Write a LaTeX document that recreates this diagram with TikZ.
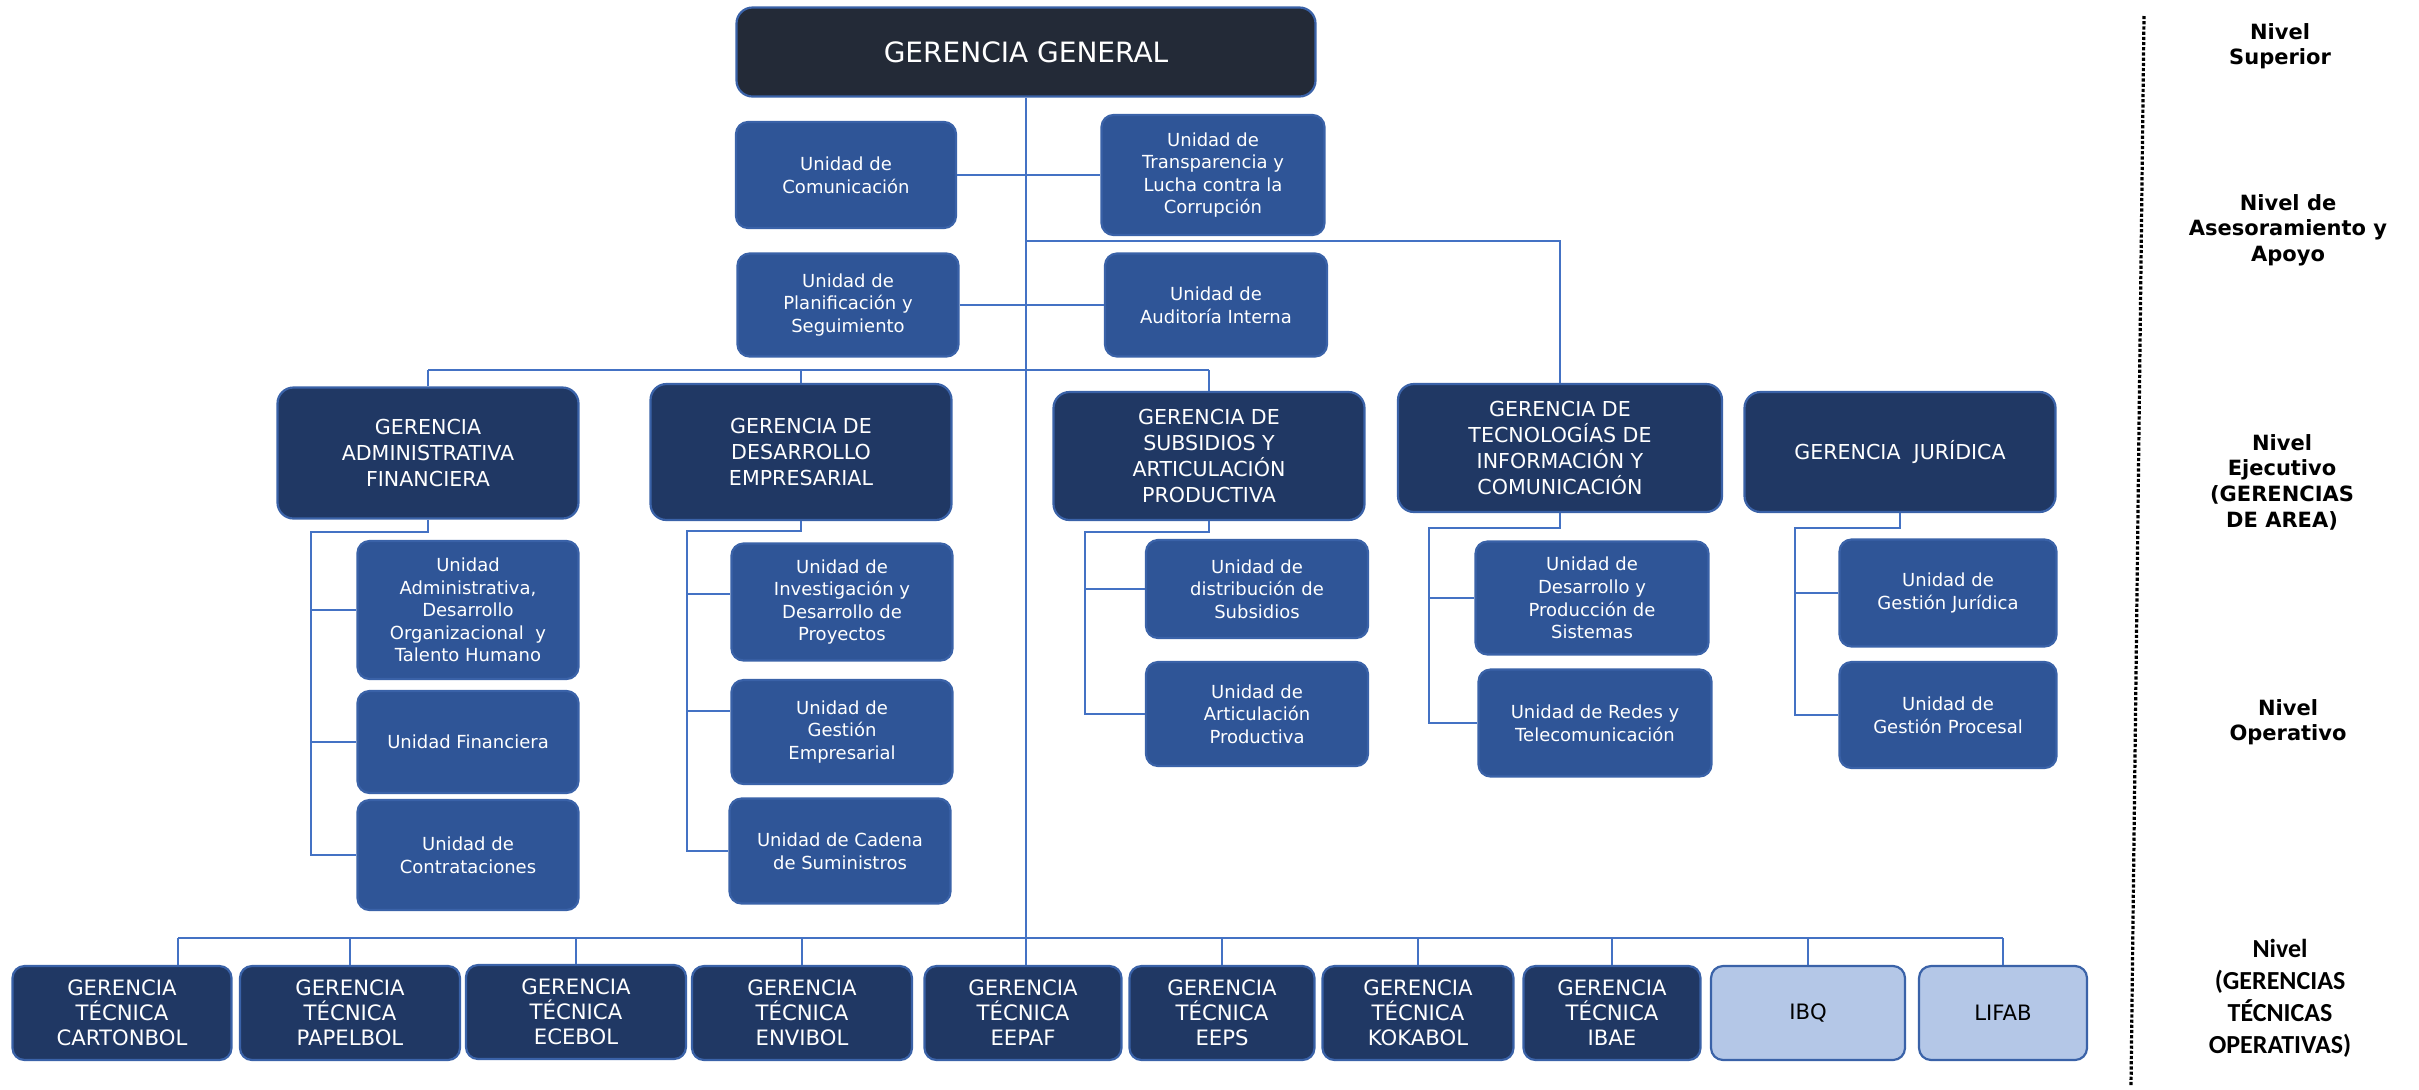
\documentclass[tikz,border=0pt]{standalone}
\usepackage{fontspec}
\setmainfont{DejaVu Sans}
\newfontfamily\carlito{Carlito}
\definecolor{ggfill}{HTML}{232A37}
\definecolor{gerfill}{HTML}{203864}
\definecolor{unitfill}{HTML}{2F5597}
\definecolor{lightfill}{HTML}{B4C7E7}
\definecolor{boxedge}{HTML}{3A62A8}
\definecolor{linkblue}{HTML}{4472C4}
\begin{document}
\begin{tikzpicture}[x=0.5pt, y=-0.5pt,
  box/.style={draw=boxedge, line width=1.1pt, rounded corners=6pt, text=white, align=center, inner sep=2pt},
  general/.style={box, fill=ggfill, rounded corners=8pt, minimum width=289.5pt, minimum height=44.5pt, font=\fontsize{14}{17}\selectfont},
  gerbox/.style={box, fill=gerfill, rounded corners=8pt, font=\fontsize{10.3}{13}\selectfont},
  unit/.style={box, fill=unitfill, minimum width=110.5pt, font=\fontsize{9}{11.3}\selectfont},
  tecnica/.style={box, fill=gerfill, minimum height=47pt, font=\fontsize{10.6}{12.5}\selectfont},
  instituto/.style={tecnica, fill=lightfill, text=black},
  lvl/.style={align=center, font=\bfseries\fontsize{10.5}{12.8}\selectfont},
  link/.style={draw=linkblue, line width=0.9pt}]
\useasboundingbox (0,0) rectangle (2419,1089);

\node[general] (gg) at (1026,52) {GERENCIA GENERAL};

\node[unit, minimum width=110pt, minimum height=53pt] (com) at (846,175) {Unidad de\\Comunicación};
\node[unit, minimum width=111.5pt, minimum height=60pt] (tra) at (1213,175) {Unidad de\\Transparencia y\\Lucha contra la\\Corrupción};
\node[unit, minimum height=51.5pt] (pla) at (848,305) {Unidad de\\Planificación y\\Seguimiento};
\node[unit, minimum width=111pt, minimum height=51.5pt] (aud) at (1216,305) {Unidad de\\Auditoría Interna};

\node[gerbox, minimum width=150.5pt, minimum height=65.5pt] (adm) at (428,453) {GERENCIA\\ADMINISTRATIVA\\FINANCIERA};
\node[gerbox, minimum width=150.5pt, minimum height=68pt] (des) at (801,452) {GERENCIA DE\\DESARROLLO\\EMPRESARIAL};
\node[gerbox, minimum width=155.5pt, minimum height=64pt] (sub) at (1209,456) {GERENCIA DE\\SUBSIDIOS Y\\ARTICULACIÓN\\PRODUCTIVA};
\node[gerbox, minimum width=162pt, minimum height=64pt] (tec) at (1560,448) {GERENCIA DE\\TECNOLOGÍAS DE\\INFORMACIÓN Y\\COMUNICACIÓN};
\node[gerbox, minimum width=155.5pt, minimum height=60pt] (jur) at (1900,452) {GERENCIA\ \ JURÍDICA};

\node[unit, minimum height=69pt] (uadm) at (468,610) {Unidad\\Administrativa,\\Desarrollo\\Organizacional\ \ y\\Talento Humano};
\node[unit, minimum height=51pt] (ufin) at (468,742) {Unidad Financiera};
\node[unit, minimum height=55pt] (ucon) at (468,855) {Unidad de\\Contrataciones};

\node[unit, minimum height=58.5pt] (uinv) at (842,602) {Unidad de\\Investigación y\\Desarrollo de\\Proyectos};
\node[unit, minimum height=52pt] (uges) at (842,732) {Unidad de\\Gestión\\Empresarial};
\node[unit, minimum height=52.5pt] (ucad) at (840,851) {Unidad de Cadena\\de Suministros};

\node[unit, minimum width=111pt, minimum height=49pt] (udis) at (1257,589) {Unidad de\\distribución de\\Subsidios};
\node[unit, minimum width=111pt, minimum height=52pt] (uart) at (1257,714) {Unidad de\\Articulación\\Productiva};

\node[unit, minimum width=116.5pt, minimum height=56.5pt] (usis) at (1592,598) {Unidad de\\Desarrollo y\\Producción de\\Sistemas};
\node[unit, minimum width=116.5pt, minimum height=53.5pt] (ured) at (1595,723) {Unidad de Redes y\\Telecomunicación};

\node[unit, minimum width=108.5pt, minimum height=53.5pt] (ujur) at (1948,593) {Unidad de\\Gestión Jurídica};
\node[unit, minimum width=108.5pt, minimum height=53pt] (upro) at (1948,715) {Unidad de\\Gestión Procesal};

\node[tecnica, minimum width=109.5pt] (cart) at (122,1013) {GERENCIA\\TÉCNICA\\CARTONBOL};
\node[tecnica, minimum width=110pt] (pap) at (350,1013) {GERENCIA\\TÉCNICA\\PAPELBOL};
\node[tecnica, minimum width=110pt] (ece) at (576,1012) {GERENCIA\\TÉCNICA\\ECEBOL};
\node[tecnica, minimum width=110pt] (env) at (802,1013) {GERENCIA\\TÉCNICA\\ENVIBOL};
\node[tecnica, minimum width=98.5pt] (eepaf) at (1023,1013) {GERENCIA\\TÉCNICA\\EEPAF};
\node[tecnica, minimum width=92.5pt] (eeps) at (1222,1013) {GERENCIA\\TÉCNICA\\EEPS};
\node[tecnica, minimum width=95.5pt] (koka) at (1418,1013) {GERENCIA\\TÉCNICA\\KOKABOL};
\node[tecnica, minimum width=88.5pt] (ibae) at (1612,1013) {GERENCIA\\TÉCNICA\\IBAE};
\node[instituto, minimum width=97pt] (ibq) at (1808,1013) {IBQ};
\node[instituto, minimum width=84pt] (lifab) at (2003,1013) {LIFAB};

\coordinate (tecjoin) at (1026,241);
\coordinate (gerbus) at (426,370);
\coordinate (tecbus) at (178,938);
\coordinate (admbus) at (311,532);
\coordinate (desbus) at (687,531);
\coordinate (subbus) at (1085,532);
\coordinate (tecnbus) at (1429,528);
\coordinate (jurbus) at (1795,528);

\draw[link, line width=1.4pt] (gg) -- (gg.south |- eepaf.north);
\draw[link] (com) -- (tra);
\draw[link] (pla) -- (aud);
\draw[link] (tecjoin) -| (tec.north);
\draw[link] (gerbus -| adm.north) -- (gerbus -| sub.north);
\foreach \g in {adm,des,sub}
  \draw[link] (\g.north) -- (\g.north |- gerbus);

\draw[link] (adm.south) |- (admbus) |- (uadm.west);
\draw[link] (admbus) |- (ufin.west);
\draw[link] (admbus) |- (ucon.west);
\draw[link] (des.south) |- (desbus) |- ([yshift=4pt]uinv.west);
\draw[link] (desbus) |- ([yshift=10.5pt]uges.west);
\draw[link] (desbus) |- (ucad.west);
\draw[link] (sub.south) |- (subbus) |- (udis.west);
\draw[link] (subbus) |- (uart.west);
\draw[link] (tec.south) |- (tecnbus) |- (usis.west);
\draw[link] (tecnbus) |- (ured.west);
\draw[link] (jur.south) |- (jurbus) |- (ujur.west);
\draw[link] (jurbus) |- (upro.west);

\draw[link] (tecbus) -- (tecbus -| lifab.north);
\draw[link] (tecbus) -- (tecbus |- cart.north);
\foreach \g in {pap,ece,env,eeps,koka,ibae,ibq,lifab}
  \draw[link] (\g.north) -- (\g.north |- tecbus);

\coordinate (septop) at (2144,16);
\coordinate (sepbot) at (2131,1085);
\draw[line width=1.6pt, dash pattern=on 1.6pt off 1pt] (septop) -- (sepbot);

\node[lvl] (nsup) at (2280,46) {Nivel\\Superior};
\node[lvl] (nase) at (2288,230) {Nivel de\\Asesoramiento y\\Apoyo};
\node[lvl] (neje) at (2282,482) {Nivel\\Ejecutivo\\(GERENCIAS\\DE AREA)};
\node[lvl] (nope) at (2288,722) {Nivel\\Operativo};
\node[lvl, font=\carlito\bfseries\fontsize{13}{16}\selectfont] (ntec) at (2280,998) {Nivel\\(GERENCIAS\\TÉCNICAS\\OPERATIVAS)};
\end{tikzpicture}
\end{document}
